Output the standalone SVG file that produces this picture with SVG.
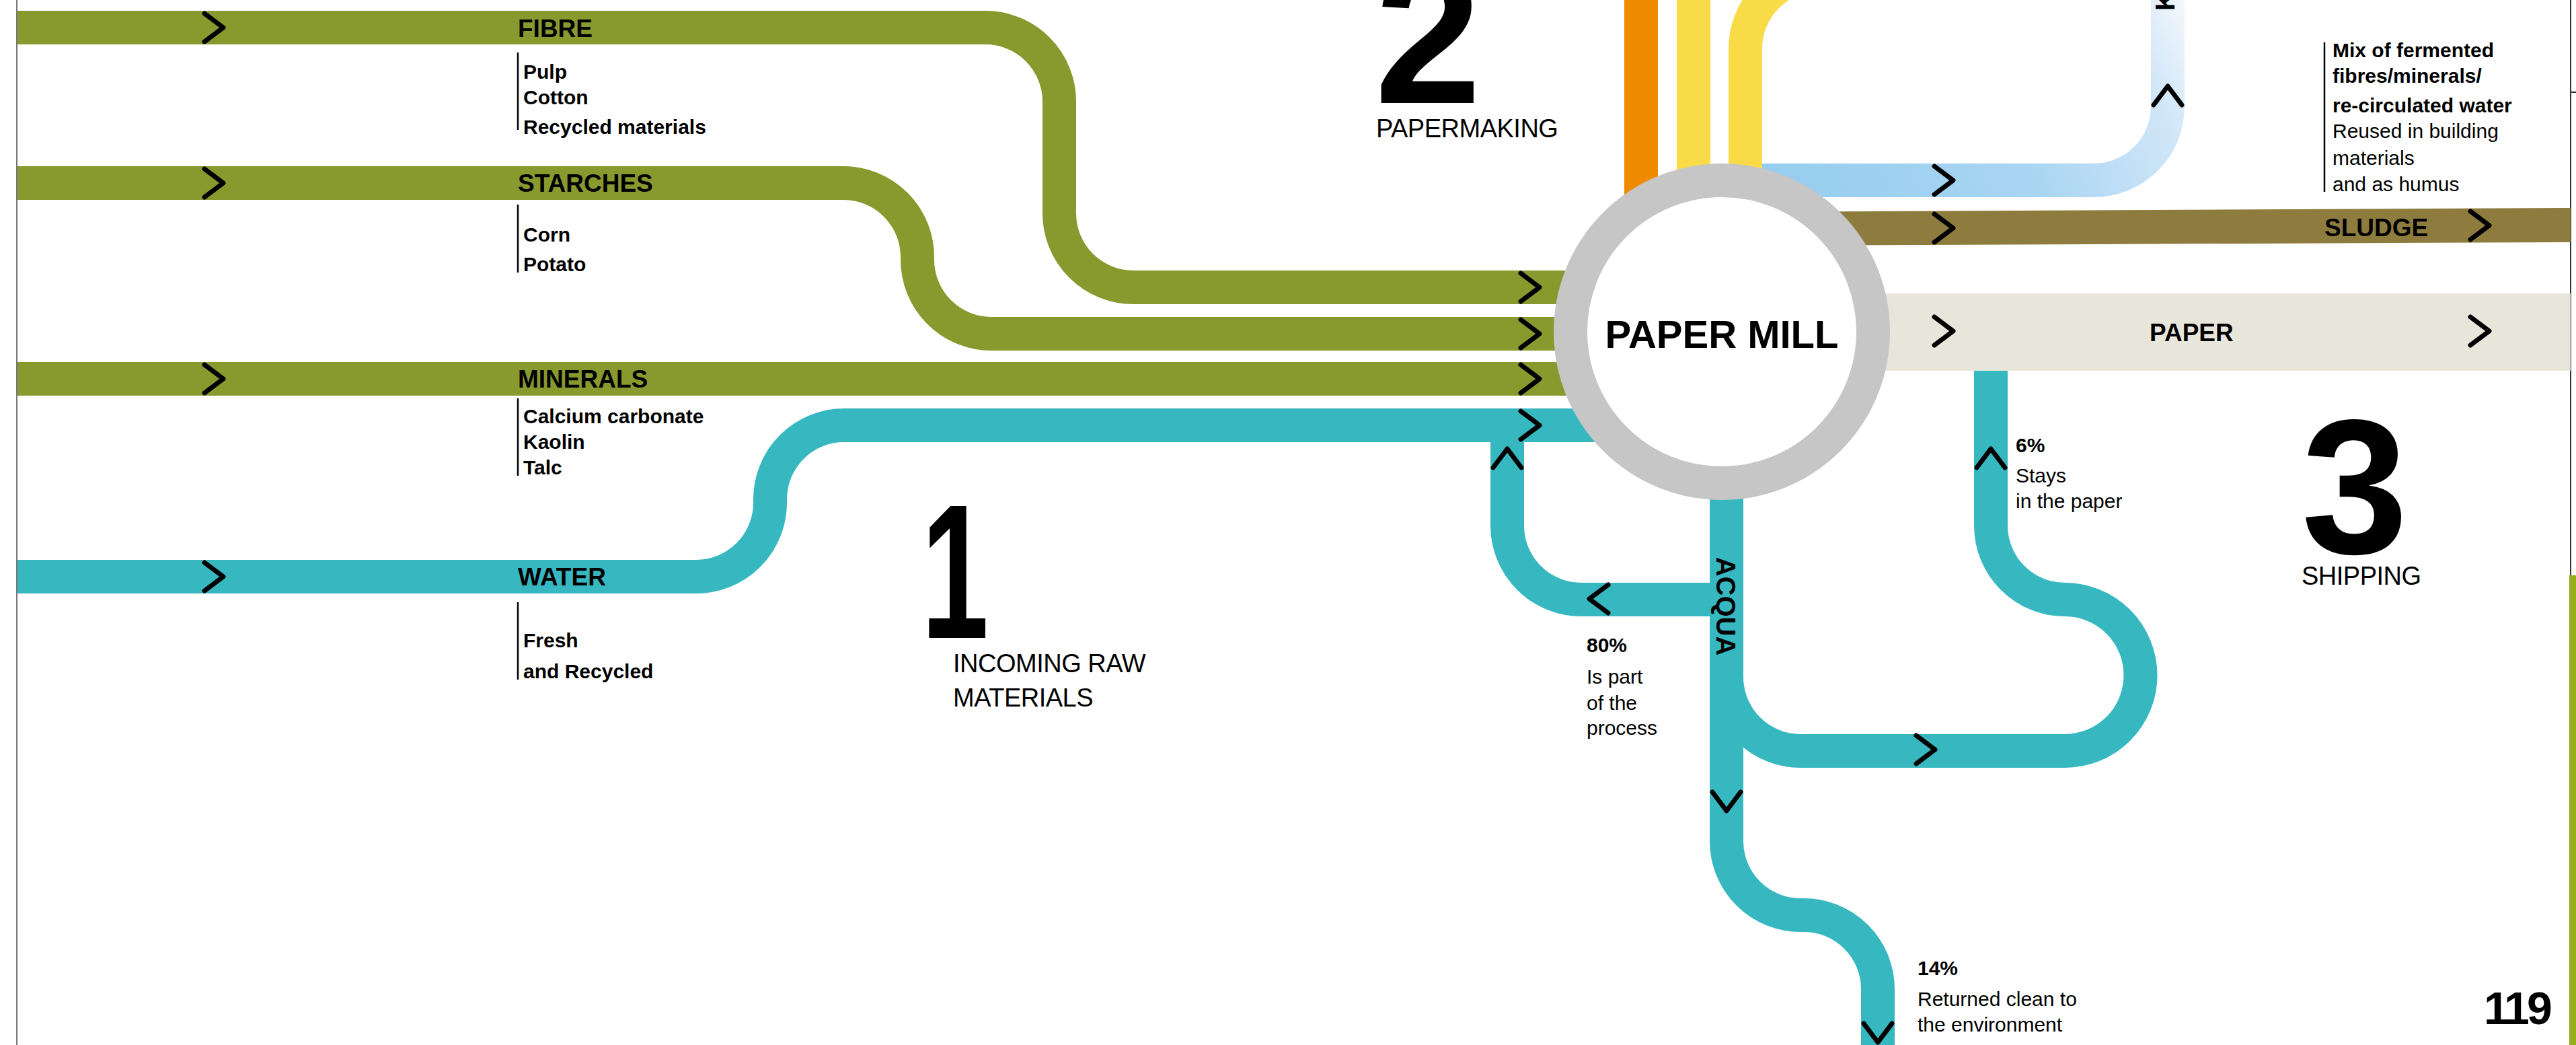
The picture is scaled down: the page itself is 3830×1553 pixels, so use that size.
<svg xmlns="http://www.w3.org/2000/svg" xmlns:xlink="http://www.w3.org/1999/xlink" width="3830" height="1553" viewBox="0 0 3830 1553">
<style>
.band{fill:none;stroke-width:50;stroke-linecap:butt;stroke-linejoin:round}
.g{stroke:#88992E}
.t{stroke:#37B8C1}
.tick{stroke:#000;stroke-width:2.5}
text{font-family:"Liberation Sans",Arial,sans-serif;fill:#000}
.lbl{font-size:37px;font-weight:bold}
.sub{font-size:30px;font-weight:bold}
.reg{font-size:30px}
.stage{font-size:38px;letter-spacing:-0.5px}
.num{font-size:285px;font-weight:bold}
</style>
<defs>
<path id="chev" d="M-14,-21 L14,0 L-14,21" fill="none" stroke="#000" stroke-width="7" stroke-linecap="round" stroke-linejoin="round"/>
<linearGradient id="lb" gradientUnits="userSpaceOnUse" x1="2600" y1="300" x2="3250" y2="0">
<stop offset="0" stop-color="#95CCEF"/>
<stop offset="0.55" stop-color="#A8D5F2"/>
<stop offset="0.7" stop-color="#BCDDF5"/>
<stop offset="0.87" stop-color="#D2E7F8"/>
<stop offset="1" stop-color="#F4F8FD"/>
</linearGradient>
</defs>
<rect width="3830" height="1553" fill="#fff"/>
<line x1="25" y1="0" x2="25" y2="1553" stroke="#777" stroke-width="2"/>
<line x1="3822" y1="0" x2="3822" y2="855" stroke="#333" stroke-width="2"/>
<line x1="3822" y1="137" x2="3830" y2="137" stroke="#333" stroke-width="2"/>
<rect x="3820" y="855" width="10" height="698" fill="#97AE1B"/>

<g id="connectors">
<path class="band t" d="M2567,891 H2351 A110,110 0 0 1 2241,781 V640"/>
<path class="band t" d="M2567,1006 A110,110 0 0 0 2677,1116 H3070 A112.5,112.5 0 0 0 3070,891 A110,110 0 0 1 2960,781 V540"/>
<path class="band t" d="M2567,700 V1250 A110,110 0 0 0 2677,1360 H2682 A110,110 0 0 1 2792,1470 V1560"/>
<path class="band t" d="M26,857 H1035 A110,110 0 0 0 1145,747 V742 A110,110 0 0 1 1255,632 H2420"/>
<path class="band g" d="M26,41 H1465 A110,110 0 0 1 1575,151 V317 A110,110 0 0 0 1685,427 H2420"/>
<path class="band g" d="M26,272 H1254 A110,110 0 0 1 1364,382 V386 A110,110 0 0 0 1474,496 H2420"/>
<path class="band g" d="M26,563 H2420"/>
<path class="band" stroke="url(#lb)" d="M2600,268 H3113 A110,110 0 0 0 3223,158 V-5"/>
<path class="band" stroke="#F08A00" d="M2440,-5 V500"/>
<path class="band" stroke="#F8DB46" d="M2518,-5 V500"/>
<path class="band" stroke="#F8DB46" d="M2595,500 V72 A110,110 0 0 1 2705,-38"/>
<polygon points="2600,315 3822,309 3822,360 2600,365" fill="#8E7C3E"/>
<rect x="2700" y="436" width="1122" height="115" fill="#E8E6DA"/>
</g>

<g id="paper-mill">
<circle cx="2560" cy="493" r="225" fill="#fff" stroke="#C6C6C6" stroke-width="50"/>
<text x="2560" y="517" text-anchor="middle" style="font-size:58px;font-weight:bold">PAPER MILL</text>
</g>

<g id="arrows">
<use href="#chev" xlink:href="#chev" transform="translate(318,41)"/>
<use href="#chev" xlink:href="#chev" transform="translate(318,272)"/>
<use href="#chev" xlink:href="#chev" transform="translate(318,563)"/>
<use href="#chev" xlink:href="#chev" transform="translate(318,857)"/>
<use href="#chev" xlink:href="#chev" transform="translate(2275,427)"/>
<use href="#chev" xlink:href="#chev" transform="translate(2275,496)"/>
<use href="#chev" xlink:href="#chev" transform="translate(2275,563)"/>
<use href="#chev" xlink:href="#chev" transform="translate(2275,632)"/>
<use href="#chev" xlink:href="#chev" transform="translate(2241,681) rotate(-90)"/>
<use href="#chev" xlink:href="#chev" transform="translate(2377,890) rotate(180)"/>
<use href="#chev" xlink:href="#chev" transform="translate(2890,268)"/>
<use href="#chev" xlink:href="#chev" transform="translate(3223,142) rotate(-90)"/>
<use href="#chev" xlink:href="#chev" transform="translate(2890,339)"/>
<use href="#chev" xlink:href="#chev" transform="translate(3687,335)"/>
<use href="#chev" xlink:href="#chev" transform="translate(2890,492)"/>
<use href="#chev" xlink:href="#chev" transform="translate(3687,492)"/>
<use href="#chev" xlink:href="#chev" transform="translate(2960,681) rotate(-90)"/>
<use href="#chev" xlink:href="#chev" transform="translate(2863,1114)"/>
<use href="#chev" xlink:href="#chev" transform="translate(2567,1191) rotate(90)"/>
<use href="#chev" xlink:href="#chev" transform="translate(2792,1535) rotate(90)"/>
</g>

<g id="fibre">
<text class="lbl" x="770" y="55">FIBRE</text>
<line class="tick" x1="770" y1="78" x2="770" y2="193"/>
<text class="sub" x="778" y="117">Pulp</text>
<text class="sub" x="778" y="155">Cotton</text>
<text class="sub" x="778" y="199">Recycled materials</text>
</g>
<g id="starches">
<text class="lbl" x="770" y="285">STARCHES</text>
<line class="tick" x1="770" y1="304" x2="770" y2="405"/>
<text class="sub" x="778" y="359">Corn</text>
<text class="sub" x="778" y="403">Potato</text>
</g>
<g id="minerals">
<text class="lbl" x="770" y="576">MINERALS</text>
<line class="tick" x1="770" y1="592" x2="770" y2="707"/>
<text class="sub" x="778" y="629">Calcium carbonate</text>
<text class="sub" x="778" y="667">Kaolin</text>
<text class="sub" x="778" y="705">Talc</text>
</g>
<g id="water">
<text class="lbl" x="770" y="870">WATER</text>
<line class="tick" x1="770" y1="895" x2="770" y2="1010"/>
<text class="sub" x="778" y="962">Fresh</text>
<text class="sub" x="778" y="1008">and Recycled</text>
</g>

<g id="stage-1">
<text class="num" transform="translate(1420,948) scale(0.63,1)" x="0" y="0" text-anchor="middle">1</text>
<text class="stage" x="1417" y="999">INCOMING RAW</text>
<text class="stage" x="1417" y="1050">MATERIALS</text>
</g>
<g id="stage-2">
<text class="num" x="2123" y="153" text-anchor="middle">2</text>
<text class="stage" x="2046" y="204">PAPERMAKING</text>
</g>
<g id="stage-3">
<text class="num" x="3501" y="822" text-anchor="middle">3</text>
<text class="stage" x="3422" y="869">SHIPPING</text>
</g>

<g id="sludge">
<text class="lbl" x="3456" y="351">SLUDGE</text>
<line class="tick" x1="3456" y1="63" x2="3456" y2="285"/>
<text class="sub" x="3468" y="85">Mix of fermented</text>
<text class="sub" x="3468" y="123">fibres/minerals/</text>
<text class="sub" x="3468" y="167">re-circulated water</text>
<text class="reg" x="3468" y="205">Reused in building</text>
<text class="reg" x="3468" y="245">materials</text>
<text class="reg" x="3468" y="284">and as humus</text>
</g>
<g id="paper">
<text class="lbl" x="3196" y="507">PAPER</text>
</g>

<g id="acqua">
<text transform="translate(2552,901) rotate(90)" text-anchor="middle" style="font-size:40px;font-weight:bold">ACQUA</text>
</g>
<g id="air-label">
<text transform="translate(3233,16) rotate(-90)" style="font-size:40px;font-weight:bold">K</text>
</g>

<g id="share-80">
<text class="sub" x="2359" y="969">80%</text>
<text class="reg" x="2359" y="1016">Is part</text>
<text class="reg" x="2359" y="1055">of the</text>
<text class="reg" x="2359" y="1092">process</text>
</g>
<g id="share-6">
<text class="sub" x="2997" y="672">6%</text>
<text class="reg" x="2997" y="717">Stays</text>
<text class="reg" x="2997" y="755">in the paper</text>
</g>
<g id="share-14">
<text class="sub" x="2851" y="1449">14%</text>
<text class="reg" x="2851" y="1495">Returned clean to</text>
<text class="reg" x="2851" y="1533">the environment</text>
</g>

<text x="3693" y="1522" style="font-size:68px;font-weight:bold;letter-spacing:-4px">119</text>
</svg>
